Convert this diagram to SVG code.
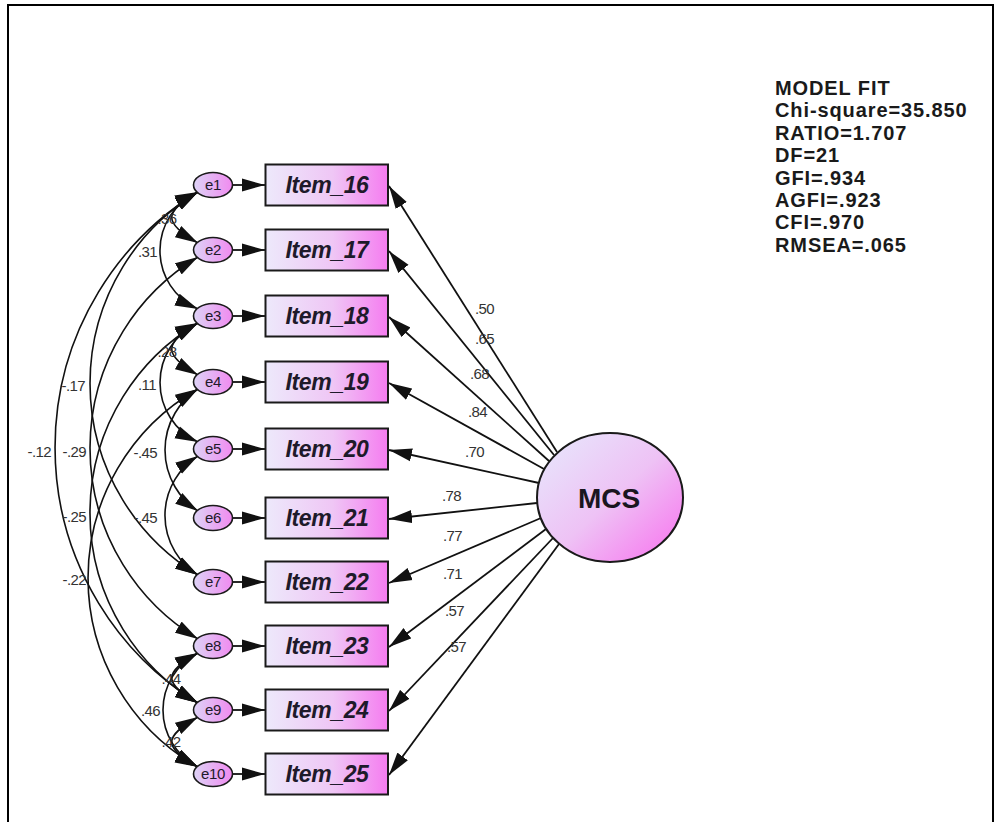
<svg xmlns="http://www.w3.org/2000/svg" width="1000" height="822" viewBox="0 0 1000 822">
  <defs>
    <linearGradient id="boxFill" x1="0" y1="0" x2="1" y2="0">
      <stop offset="0" stop-color="#ede9fb"/>
      <stop offset="0.55" stop-color="#efc6f5"/>
      <stop offset="1" stop-color="#f57cf0"/>
    </linearGradient>
    <linearGradient id="errFill" x1="0" y1="0" x2="1" y2="0">
      <stop offset="0" stop-color="#ddd3f6"/>
      <stop offset="1" stop-color="#f08af0"/>
    </linearGradient>
    <linearGradient id="latentFill" x1="0.1" y1="0.1" x2="0.95" y2="0.9">
      <stop offset="0" stop-color="#e8e2fb"/>
      <stop offset="0.5" stop-color="#eec2f5"/>
      <stop offset="1" stop-color="#f77bef"/>
    </linearGradient>
    <marker id="ah" markerUnits="userSpaceOnUse" markerWidth="24" markerHeight="14" viewBox="0 0 24 14" refX="23" refY="7" orient="auto-start-reverse">
      <path d="M0,0.5 L23,7 L0,13.5 z" fill="#111"/>
    </marker>
  </defs>
  <style>
    .frame { fill: none; stroke: #000; stroke-width: 2; }
    .box { fill: url(#boxFill); stroke: #1a1a1a; stroke-width: 2; }
    .err { fill: url(#errFill); stroke: #1a1a1a; stroke-width: 1.6; }
    .latent { fill: url(#latentFill); stroke: #1a1a1a; stroke-width: 2; }
    .item { font-family: "Liberation Sans", Arial, sans-serif; font-size: 23px; font-weight: bold; font-style: italic; fill: #1e1a2a; text-anchor: middle; letter-spacing: -0.4px; }
    .elab { font-family: "Liberation Sans", Arial, sans-serif; font-size: 15px; fill: #1e1a2a; text-anchor: middle; letter-spacing: -0.3px; }
    .lat { font-family: "Liberation Sans", Arial, sans-serif; font-size: 28px; font-weight: bold; fill: #1a1620; text-anchor: middle; }
    .fit { font-family: "Liberation Sans", Arial, sans-serif; font-size: 20px; font-weight: bold; fill: #1a1a1a; letter-spacing: 0.9px; }
    .path { fill: none; stroke: #111; stroke-width: 1.8; }
    .dir { marker-end: url(#ah); }
    .cov { fill: none; stroke: #111; stroke-width: 1.6; marker-start: url(#ah); marker-end: url(#ah); }
    .num { font-family: "Liberation Sans", Arial, sans-serif; font-size: 15px; fill: #333; letter-spacing: -0.6px; }
    .end { text-anchor: end; }
    .mid { text-anchor: middle; }
  </style>

  <rect class="frame" x="8" y="5" width="985" height="830"/>

  <!-- model fit summary -->
  <g id="model-fit">
    <text class="fit" x="775" y="95">MODEL FIT</text>
    <text class="fit" x="775" y="117.4">Chi-square=35.850</text>
    <text class="fit" x="775" y="139.8">RATIO=1.707</text>
    <text class="fit" x="775" y="162.2">DF=21</text>
    <text class="fit" x="775" y="184.6">GFI=.934</text>
    <text class="fit" x="775" y="207">AGFI=.923</text>
    <text class="fit" x="775" y="229.4">CFI=.970</text>
    <text class="fit" x="775" y="251.8">RMSEA=.065</text>
  </g>

  <!-- connectors: error -> item, latent -> item, error covariances -->
  <g id="connectors">
    <g id="error-paths" class="path dir">
      <line x1="233" y1="185" x2="265" y2="185"/>
      <line x1="233" y1="250" x2="265" y2="250"/>
      <line x1="233" y1="316" x2="265" y2="316"/>
      <line x1="233" y1="382" x2="265" y2="382"/>
      <line x1="233" y1="449" x2="265" y2="449"/>
      <line x1="233" y1="518" x2="265" y2="518"/>
      <line x1="233" y1="582" x2="265" y2="582"/>
      <line x1="233" y1="646" x2="265" y2="646"/>
      <line x1="233" y1="710" x2="265" y2="710"/>
      <line x1="233" y1="774" x2="265" y2="774"/>
    </g>
    <g id="loadings" class="path dir">
      <line x1="557" y1="452" x2="389" y2="186"/>
      <line x1="554" y1="455" x2="389" y2="251"/>
      <line x1="549" y1="461" x2="389" y2="317"/>
      <line x1="544" y1="469" x2="389" y2="383"/>
      <line x1="539" y1="483" x2="389" y2="450"/>
      <line x1="537" y1="503" x2="389" y2="519"/>
      <line x1="541" y1="518" x2="389" y2="583"/>
      <line x1="546" y1="529" x2="389" y2="647"/>
      <line x1="553" y1="538" x2="389" y2="711"/>
      <line x1="559" y1="544" x2="389" y2="775"/>
    </g>
    <g id="covariances">
      <!-- neighbouring errors -->
      <path class="cov" d="M198,192 C163,212 163,223 198,243"/>
      <path class="cov" d="M198,323 C163,343 163,355 198,375"/>
      <path class="cov" d="M198,653 C163,673 163,683 198,703"/>
      <path class="cov" d="M198,717 C163,737 163,747 198,767"/>
      <!-- two apart -->
      <path class="cov" d="M198,192 A64,64 0 0 0 198,309"/>
      <path class="cov" d="M198,323 A65.6,65.6 0 0 0 198,442"/>
      <path class="cov" d="M198,389 A72.9,72.9 0 0 0 198,511"/>
      <path class="cov" d="M198,456 A70.1,70.1 0 0 0 198,575"/>
      <path class="cov" d="M198,653 A63.9,63.9 0 0 0 198,767"/>
      <!-- long range -->
      <path class="cov" d="M198,192 A223.8,223.8 0 0 0 198,575"/>
      <path class="cov" d="M198,257 A222.9,222.9 0 0 0 198,639"/>
      <path class="cov" d="M198,323 A221.1,221.1 0 0 0 198,703"/>
      <path class="cov" d="M198,389 A217.4,217.4 0 0 0 198,767"/>
      <path class="cov" d="M198,192 A299.8,299.8 0 0 0 198,703"/>
    </g>
    <g id="path-labels" class="num">
      <text x="475" y="314">.50</text>
      <text x="475" y="344">.65</text>
      <text x="470" y="379">.68</text>
      <text x="468" y="417">.84</text>
      <text x="465" y="457">.70</text>
      <text x="442" y="501">.78</text>
      <text x="443" y="541">.77</text>
      <text x="443" y="579">.71</text>
      <text x="445" y="616">.57</text>
      <text x="447" y="652">.57</text>
      <text class="mid" x="167" y="224">.36</text>
      <text class="end" x="157" y="257">.31</text>
      <text class="mid" x="167" y="357">.28</text>
      <text class="end" x="156" y="390">.11</text>
      <text class="end" x="157" y="458">-.45</text>
      <text class="end" x="157" y="523">-.45</text>
      <text class="end" x="85" y="391">-.17</text>
      <text class="end" x="51" y="457">-.12</text>
      <text class="end" x="86" y="457">-.29</text>
      <text class="end" x="86" y="522">-.25</text>
      <text class="end" x="86" y="585">-.22</text>
      <text class="mid" x="171" y="684">.44</text>
      <text class="end" x="160" y="716">.46</text>
      <text class="mid" x="171" y="747">.42</text>
    </g>
  </g>

  <!-- latent factor -->
  <g id="MCS">
    <ellipse class="latent" cx="610" cy="497.5" rx="73" ry="64.5"/>
    <text class="lat" x="609" y="508">MCS</text>
  </g>

  <!-- observed items -->
  <g id="Item_16"><rect class="box" x="265.5" y="164.5" width="122.5" height="41"/><text class="item" x="327" y="193">Item_16</text></g>
  <g id="Item_17"><rect class="box" x="265.5" y="229.5" width="122.5" height="41"/><text class="item" x="327" y="258">Item_17</text></g>
  <g id="Item_18"><rect class="box" x="265.5" y="295.5" width="122.5" height="41"/><text class="item" x="327" y="324">Item_18</text></g>
  <g id="Item_19"><rect class="box" x="265.5" y="361.5" width="122.5" height="41"/><text class="item" x="327" y="390">Item_19</text></g>
  <g id="Item_20"><rect class="box" x="265.5" y="428.5" width="122.5" height="41"/><text class="item" x="327" y="457">Item_20</text></g>
  <g id="Item_21"><rect class="box" x="265.5" y="497.5" width="122.5" height="41"/><text class="item" x="327" y="526">Item_21</text></g>
  <g id="Item_22"><rect class="box" x="265.5" y="561.5" width="122.5" height="41"/><text class="item" x="327" y="590">Item_22</text></g>
  <g id="Item_23"><rect class="box" x="265.5" y="625.5" width="122.5" height="41"/><text class="item" x="327" y="654">Item_23</text></g>
  <g id="Item_24"><rect class="box" x="265.5" y="689.5" width="122.5" height="41"/><text class="item" x="327" y="718">Item_24</text></g>
  <g id="Item_25"><rect class="box" x="265.5" y="753.5" width="122.5" height="41"/><text class="item" x="327" y="782">Item_25</text></g>

  <!-- error terms -->
  <g id="e1"><ellipse class="err" cx="213" cy="185" rx="19.5" ry="12.5"/><text class="elab" x="213" y="190">e1</text></g>
  <g id="e2"><ellipse class="err" cx="213" cy="250" rx="19.5" ry="12.5"/><text class="elab" x="213" y="255">e2</text></g>
  <g id="e3"><ellipse class="err" cx="213" cy="316" rx="19.5" ry="12.5"/><text class="elab" x="213" y="321">e3</text></g>
  <g id="e4"><ellipse class="err" cx="213" cy="382" rx="19.5" ry="12.5"/><text class="elab" x="213" y="387">e4</text></g>
  <g id="e5"><ellipse class="err" cx="213" cy="449" rx="19.5" ry="12.5"/><text class="elab" x="213" y="454">e5</text></g>
  <g id="e6"><ellipse class="err" cx="213" cy="518" rx="19.5" ry="12.5"/><text class="elab" x="213" y="523">e6</text></g>
  <g id="e7"><ellipse class="err" cx="213" cy="582" rx="19.5" ry="12.5"/><text class="elab" x="213" y="587">e7</text></g>
  <g id="e8"><ellipse class="err" cx="213" cy="646" rx="19.5" ry="12.5"/><text class="elab" x="213" y="651">e8</text></g>
  <g id="e9"><ellipse class="err" cx="213" cy="710" rx="19.5" ry="12.5"/><text class="elab" x="213" y="715">e9</text></g>
  <g id="e10"><ellipse class="err" cx="213" cy="774" rx="19.5" ry="12.5"/><text class="elab" x="213" y="779">e10</text></g>
</svg>
